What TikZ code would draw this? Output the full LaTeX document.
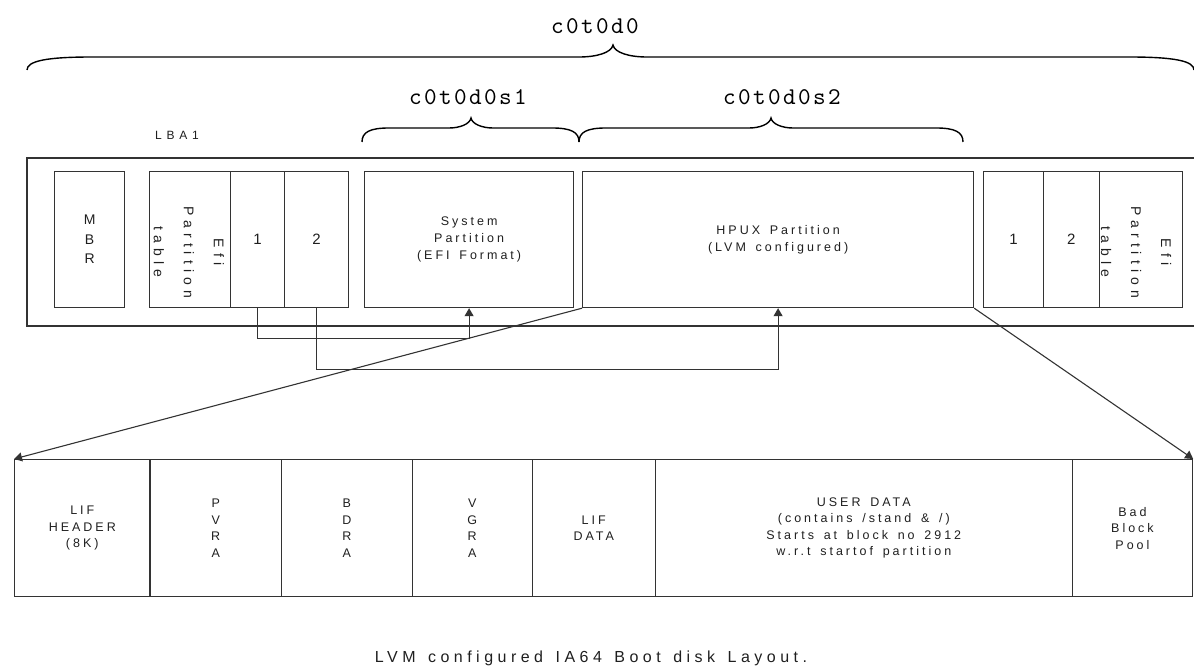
\documentclass[tikz,border=0pt]{standalone}
\usepackage{fontspec}
\setmainfont{Liberation Sans}
\newfontfamily\lbl{Liberation Sans}[LetterSpace=24, WordSpace=1.5]
\newfontfamily\rotf{Liberation Sans}[LetterSpace=36]
\newfontfamily\capf{Liberation Sans}[LetterSpace=28, WordSpace=1.4]
\newfontfamily\monof{lmmono10-regular.otf}[LetterSpace=10]
\usetikzlibrary{arrows.meta}
\colorlet{lc}{black!80}
\colorlet{tc}{black!88}
\newcommand\drawbrace[8]{%
 \draw[brace] (#1,#4) .. controls (#1,{#5+4}) and ({#1+0.3*#7},#5) .. ({#1+#7},#5)
   -- ({#2-#8},#5) .. controls ({#2-0.5*#8},#5) and ({#2-0.05*#8},{#5-4}) .. (#2,#6)
   .. controls ({#2+0.05*#8},{#5-4}) and ({#2+0.5*#8},#5) .. ({#2+#8},#5)
   -- ({#3-#7},#5) .. controls ({#3-0.3*#7},#5) and (#3,{#5+4}) .. (#3,#4);}
\begin{document}
\begin{tikzpicture}[x=1pt,y=-1pt,
  box/.style={draw=lc, line width=1.2pt, inner sep=0pt, anchor=north west, align=center,
              minimum height=136pt, text=tc, font=\lbl\fontsize{12.5}{17}\selectfont},
  tbox/.style={box, minimum height=137pt, font=\lbl\fontsize{12.5}{16.5}\selectfont},
  digit/.style={font=\lbl\fontsize{15}{18}\selectfont},
  rot/.style={rotate=-90, align=center, text=tc, inner sep=0pt, font=\rotf\fontsize{14}{30}\selectfont},
  conn/.style={draw=lc, line width=1.1pt},
  arr/.style={conn, -{Triangle[length=8pt,width=9pt]}},
  brace/.style={draw=black, line width=1.4pt},
  mono/.style={font=\monof\fontsize{24}{28}\selectfont, text=black, inner sep=0pt},
  plain/.style={text=tc, inner sep=0pt}
]
\useasboundingbox (0,0) rectangle (1194,668);

% labels and braces
\node[mono] (d0) at (595,26) {c0t0d0};
\node[mono] (s1) at (468,97) {c0t0d0s1};
\node[mono] (s2) at (782,97) {c0t0d0s2};
\drawbrace{27}{613}{1194}{70}{57}{45}{65}{34}
\drawbrace{362}{471}{579}{142}{128}{118}{27}{22}
\drawbrace{579}{771}{963}{142}{128}{118}{27}{22}
\node[plain, font=\lbl\fontsize{12}{14}\selectfont\addfontfeature{LetterSpace=40}] (lba) at (177,135) {LBA1};

% disk outline
\draw[conn, line width=1.2pt] (1194,158) -- (27,158) -- (27,326) -- (1194,326);

% upper row
\node[box, minimum width=70pt, font=\lbl\fontsize{14}{19.5}\selectfont] (mbr) at (54,171) {M\\B\\R};
\node[box, minimum width=81.5pt] (efiL) at (148.5,171) {};
\node[rot] (efiLt) at (189,252) {Efi\\Partition\\table};
\node[box, minimum width=54pt, digit] (c1L) at (230,171) {1};
\node[box, minimum width=64pt, digit] (c2L) at (284,171) {2};
\node[box, minimum width=209pt] (sys) at (364,171) {System\\Partition\\(EFI Format)};
\node[box, minimum width=391pt] (hpux) at (582,171) {HPUX Partition\\(LVM configured)};
\node[box, minimum width=60pt, digit] (c1R) at (983,171) {1};
\node[box, minimum width=55.5pt, digit] (c2R) at (1043,171) {2};
\node[box, minimum width=83.5pt] (efiR) at (1098.5,171) {};
\node[rot] (efiRt) at (1136,252) {Efi\\Partition\\table};

% lower row
\node[tbox, minimum width=135.4pt] (lif) at (14,459) {LIF\\HEADER\\(8K)};
\node[tbox, minimum width=131.4pt] (pvra) at (149.4,459) {P\\V\\R\\A};
\node[tbox, minimum width=130.9pt] (bdra) at (280.8,459) {B\\D\\R\\A};
\node[tbox, minimum width=119.9pt] (vgra) at (411.7,459) {V\\G\\R\\A};
\node[tbox, minimum width=123.1pt] (lifd) at (531.6,459) {LIF\\DATA};
\node[tbox, minimum width=417pt] (user) at (654.7,459) {USER DATA\\(contains /stand \& /)\\Starts at block no 2912\\w.r.t startof partition};
\node[tbox, minimum width=120.3pt] (bad) at (1071.7,459) {Bad\\Block\\Pool};

% connectors
\draw[arr] (c1L.south) -- ++(0,30) -| (sys.south);
\draw[arr] (c2L.south) -- ++(0,61) -| (hpux.south);
\draw[arr] (hpux.south west) -- (lif.north west);
\draw[arr] (hpux.south east) -- (bad.north east);

\node[plain, font=\capf\fontsize{16}{18}\selectfont] (caption) at (591,658) {LVM configured IA64 Boot disk Layout.};
\end{tikzpicture}
\end{document}
